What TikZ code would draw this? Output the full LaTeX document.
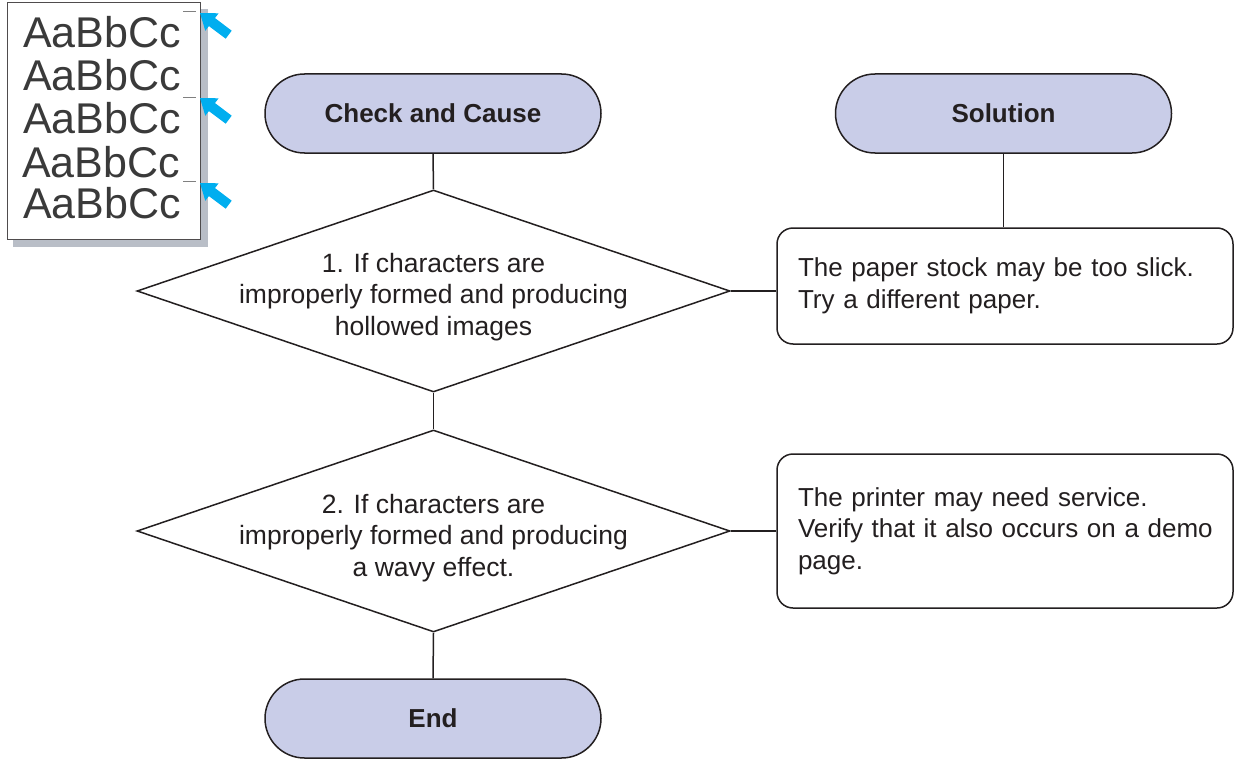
\documentclass[tikz,border=0pt]{standalone}
\usepackage{fontspec}
\setmainfont{Liberation Sans}
\usetikzlibrary{shapes.geometric,shapes.misc}
\definecolor{ink}{HTML}{231F20}
\definecolor{lav}{HTML}{C9CDE8}
\definecolor{cyanarrow}{HTML}{00AEEF}
\definecolor{shadowgray}{HTML}{B9BEC7}
\definecolor{sampletext}{HTML}{3A3A3A}
\tikzset{
  conn/.style={draw=ink, line width=1.5pt},
  term/.style={rounded rectangle, rounded rectangle arc length=180, draw=ink, line width=1.5pt,
    fill=lav, minimum width=336pt, minimum height=79pt, inner sep=0pt, text=ink,
    font=\fontsize{26}{30}\selectfont\bfseries},
  decide/.style={diamond, draw=ink, line width=1.5pt, fill=white, minimum width=593pt,
    minimum height=202pt, inner sep=0pt},
  decidetext/.style={inner sep=0pt, align=center, text=ink,
    font=\fontsize{26.5}{31.5}\selectfont},
  solbox/.style={rectangle, rounded corners=16pt, draw=ink, line width=1.5pt, fill=white,
    text width=414pt, inner xsep=21pt, inner ysep=0pt, align=left, text=ink,
    font=\fontsize{26}{31.5}\selectfont},
  sample/.style={anchor=base west, inner sep=0pt, text=sampletext, font=\fontsize{43}{43}\selectfont},
  tick/.style={draw=gray, line width=1pt},
  cyanarr/.style={fill=cyanarrow, draw=none}
}
\begin{document}
\begin{tikzpicture}[x=1pt,y=-1pt]
\useasboundingbox (0,0) rectangle (1234,760);
% sample page
\fill[shadowgray] (13,9) rectangle (208,247);
\draw[fill=white, draw=ink!80, line width=1pt] (7,3) rectangle (200,239);
\node[sample] (s1) at (23,48) {AaBbCc};
\node[sample] (s2) at (23,91) {AaBbCc};
\node[sample] (s3) at (23,133) {AaBbCc};
\node[sample] (s4) at (22,177) {AaBbCc};
\node[sample] (s5) at (23,218) {AaBbCc};
\draw[tick] (183,12) -- (196,12);
\draw[tick] (183,97) -- (196,97);
\draw[tick] (183,181) -- (196,181);
\foreach \dy in {0,85,170}{
  \fill[cyanarr, shift={(0,\dy)}] (200,13) -- (205.3,30.8) -- (208.9,26.05) -- (225.7,38.7)
    -- (231.7,30.7) -- (215.0,18.07) -- (218.6,13.3) -- cycle;
}
% flowchart
\node[term] (cc) at (433,113.5) {Check and Cause};
\node[term] (sol) at (1003.5,113.5) {Solution};
\node[decide] (d1) at (433.5,291) {};
\node[decidetext] (d1t) at ([yshift=-6pt]d1.center) {1. If characters are\\improperly formed and producing\\hollowed images};
\node[decide] (d2) at (433.5,531) {};
\node[decidetext] (d2t) at ([yshift=-7pt]d2.center) {2. If characters are\\improperly formed and producing\\a wavy effect.};
\node[term] (end) at (433,718.5) {End};
\node[solbox, minimum height=116pt] (b1) at (1005,286) {The paper stock may be too slick.\\Try a different paper.};
\node[solbox, minimum height=154pt] (b2) at (1005,531) {\rule{0pt}{0pt}The printer may need service.\\\mbox{Verify that it also occurs on a demo}\\page.};
\draw[conn] (cc.south) -- (d1.north);
\draw[conn] (d1.south) -- (d2.north);
\draw[conn] (d2.south) -- (end.north);
\draw[conn] (sol.south) -- (sol.south |- b1.north);
\draw[conn] (d1.east) -- (d1.east -| b1.west);
\draw[conn] (d2.east) -- (d2.east -| b2.west);
\end{tikzpicture}
\end{document}
